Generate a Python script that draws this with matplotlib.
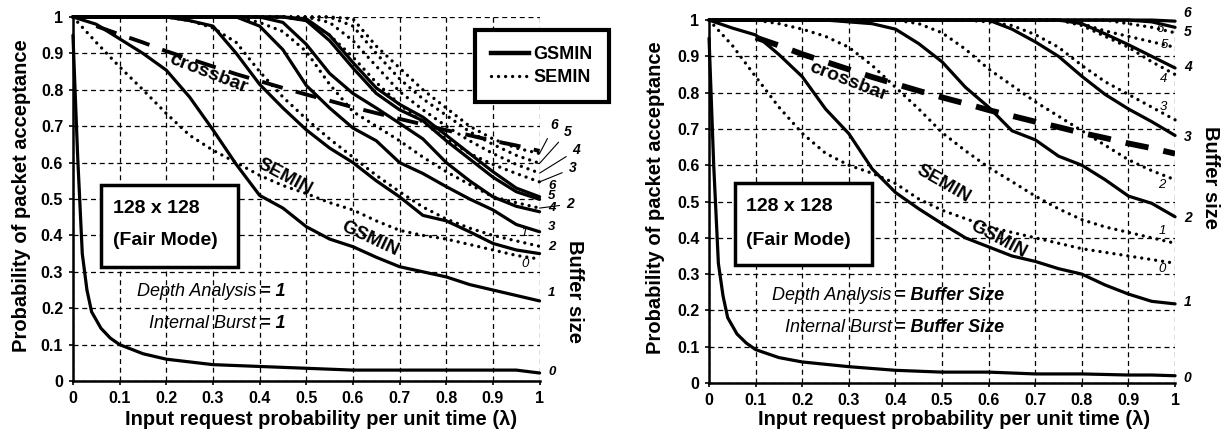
import numpy as np
import matplotlib
matplotlib.use("Agg")
import matplotlib.pyplot as plt
from matplotlib.patches import Rectangle
from matplotlib.lines import Line2D

plt.rcParams['font.family'] = ['Liberation Sans', 'DejaVu Sans']

# input request probability (lambda) sample points
lam = [0, 0.05, 0.1, 0.15, 0.2, 0.25, 0.3, 0.35, 0.4, 0.45, 0.5,
       0.55, 0.6, 0.65, 0.7, 0.75, 0.8, 0.85, 0.9, 0.95, 1.0]
lam_g0 = [0, 0.01, 0.02, 0.03, 0.04, 0.06, 0.08, 0.1, 0.15, 0.2, 0.3,
          0.4, 0.5, 0.6, 0.7, 0.8, 0.9, 0.95, 1.0]
lam_xbar = lam[1:]

crossbar = [0.975, 0.952, 0.93, 0.906, 0.885, 0.864, 0.843, 0.824, 0.805, 0.787,
            0.77, 0.752, 0.736, 0.72, 0.705, 0.689, 0.675, 0.66, 0.647, 0.632]

# ---- left: depth analysis = 1, internal burst = 1
l_g0 = [0.95, 0.62, 0.35, 0.25, 0.19, 0.145, 0.118, 0.10, 0.075, 0.06, 0.045,
        0.04, 0.035, 0.03, 0.03, 0.03, 0.03, 0.03, 0.022]
l_g1 = [1, 0.98, 0.94, 0.90, 0.854, 0.78, 0.69, 0.595, 0.51, 0.475, 0.424,
        0.39, 0.369, 0.34, 0.314, 0.30, 0.286, 0.265, 0.25, 0.235, 0.22]
l_g2 = [1, 1, 1, 1, 1, 0.99, 0.975, 0.9, 0.815, 0.75, 0.69,
        0.64, 0.60, 0.55, 0.506, 0.455, 0.44, 0.41, 0.378, 0.36, 0.35]
l_g3 = [1, 1, 1, 1, 1, 1, 1, 1, 0.975, 0.91, 0.812,
        0.75, 0.695, 0.66, 0.60, 0.57, 0.534, 0.50, 0.47, 0.43, 0.41]
l_g4 = [1, 1, 1, 1, 1, 1, 1, 1, 1, 0.985, 0.925,
        0.845, 0.79, 0.75, 0.708, 0.665, 0.60, 0.55, 0.506, 0.48, 0.465]
l_g5 = [1, 1, 1, 1, 1, 1, 1, 1, 1, 1, 0.99,
        0.935, 0.86, 0.79, 0.745, 0.715, 0.66, 0.61, 0.56, 0.52, 0.499]
l_g6 = [1, 1, 1, 1, 1, 1, 1, 1, 1, 1, 0.995,
        0.95, 0.875, 0.805, 0.76, 0.725, 0.675, 0.625, 0.575, 0.53, 0.506]
l_s0 = [1, 0.93, 0.863, 0.80, 0.735, 0.675, 0.634, 0.60, 0.565, 0.537, 0.515,
        0.49, 0.47, 0.44, 0.414, 0.40, 0.39, 0.375, 0.36, 0.345, 0.335]
l_s1 = [1, 1, 1, 1, 1, 0.99, 0.97, 0.93, 0.85, 0.78, 0.72,
        0.665, 0.615, 0.565, 0.52, 0.478, 0.445, 0.42, 0.40, 0.385, 0.37]
l_s2 = [1, 1, 1, 1, 1, 1, 1, 1, 0.985, 0.96, 0.905,
        0.815, 0.74, 0.70, 0.66, 0.615, 0.575, 0.54, 0.506, 0.49, 0.475]
l_s3 = [1, 1, 1, 1, 1, 1, 1, 1, 1, 1, 0.99,
        0.95, 0.89, 0.82, 0.76, 0.71, 0.665, 0.625, 0.595, 0.57, 0.547]
l_s4 = [1, 1, 1, 1, 1, 1, 1, 1, 1, 1, 1,
        0.985, 0.935, 0.865, 0.795, 0.745, 0.70, 0.66, 0.625, 0.595, 0.571]
l_s5 = [1, 1, 1, 1, 1, 1, 1, 1, 1, 1, 1,
        1, 0.975, 0.90, 0.83, 0.775, 0.73, 0.685, 0.65, 0.62, 0.598]
l_s6 = [1, 1, 1, 1, 1, 1, 1, 1, 1, 1, 1,
        1, 0.995, 0.92, 0.86, 0.80, 0.75, 0.70, 0.665, 0.64, 0.625]

# ---- right: depth analysis = internal burst = buffer size
r_g0 = [0.95, 0.6, 0.33, 0.24, 0.18, 0.135, 0.11, 0.092, 0.07, 0.058, 0.045,
        0.035, 0.03, 0.03, 0.025, 0.025, 0.022, 0.022, 0.02]
r_g1 = [1, 0.978, 0.959, 0.905, 0.844, 0.755, 0.687, 0.59, 0.525, 0.48, 0.439,
        0.40, 0.375, 0.35, 0.335, 0.315, 0.30, 0.27, 0.245, 0.225, 0.218]
r_g2 = [1, 1, 1, 1, 1, 1, 0.995, 0.99, 0.975, 0.935, 0.885,
        0.815, 0.76, 0.695, 0.67, 0.625, 0.60, 0.56, 0.515, 0.495, 0.458]
r_g3 = [1, 1, 1, 1, 1, 1, 1, 1, 1, 1, 1,
        1, 1, 0.975, 0.94, 0.90, 0.845, 0.795, 0.755, 0.72, 0.682]
r_g4 = [1, 1, 1, 1, 1, 1, 1, 1, 1, 1, 1,
        1, 1, 1, 1, 1, 0.99, 0.962, 0.932, 0.90, 0.868]
r_g5 = [1, 1, 1, 1, 1, 1, 1, 1, 1, 1, 1,
        1, 1, 1, 1, 1, 1, 1, 1, 0.995, 0.98]
r_g6 = [1, 1, 1, 1, 1, 1, 1, 1, 1, 1, 1,
        1, 1, 1, 1, 1, 1, 1, 1, 1, 0.997]
r_s0 = [1, 0.93, 0.844, 0.76, 0.688, 0.633, 0.60, 0.578, 0.55, 0.507, 0.476,
        0.453, 0.43, 0.415, 0.40, 0.385, 0.37, 0.36, 0.35, 0.34, 0.33]
r_s1 = [1, 1, 1, 0.99, 0.975, 0.955, 0.925, 0.875, 0.815, 0.755, 0.69,
        0.64, 0.594, 0.555, 0.515, 0.48, 0.45, 0.43, 0.415, 0.40, 0.385]
r_s2 = [1, 1, 1, 1, 1, 1, 1, 1, 1, 0.99, 0.965,
        0.92, 0.865, 0.82, 0.775, 0.735, 0.695, 0.655, 0.615, 0.585, 0.56]
r_s3 = [1, 1, 1, 1, 1, 1, 1, 1, 1, 1, 1,
        1, 0.995, 0.985, 0.96, 0.925, 0.875, 0.83, 0.795, 0.76, 0.725]
r_s4 = [1, 1, 1, 1, 1, 1, 1, 1, 1, 1, 1,
        1, 1, 1, 1, 1, 0.985, 0.955, 0.925, 0.885, 0.85]
r_s5 = [1, 1, 1, 1, 1, 1, 1, 1, 1, 1, 1,
        1, 1, 1, 1, 1, 0.99, 0.97, 0.955, 0.94, 0.925]
r_s6 = [1, 1, 1, 1, 1, 1, 1, 1, 1, 1, 1,
        1, 1, 1, 1, 1, 1, 1, 0.99, 0.98, 0.965]

ticks = [0, 0.1, 0.2, 0.3, 0.4, 0.5, 0.6, 0.7, 0.8, 0.9, 1]
tick_labels = ['0', '0.1', '0.2', '0.3', '0.4', '0.5', '0.6', '0.7', '0.8', '0.9', '1']

SOLID = dict(color='black', lw=2.3, solid_capstyle='round', clip_on=False, zorder=3)
DOT = dict(color='black', lw=2.4, ls=(0, (0.01, 2.1)), dash_capstyle='round',
           clip_on=False, zorder=3)


def base_axes(ax):
    ax.set_xlim(0, 1)
    ax.set_ylim(0, 1)
    ax.set_xticks(ticks, tick_labels, fontweight='bold', fontsize=11.5)
    ax.set_yticks(ticks, tick_labels, fontweight='bold', fontsize=11.5)
    ax.tick_params(length=3, width=1.2, pad=4)
    ax.grid(True, color='black', ls=(0, (4, 3)), lw=0.9)
    ax.set_axisbelow(True)
    for s in ['top', 'right']:
        ax.spines[s].set_visible(False)
    for s in ['left', 'bottom']:
        ax.spines[s].set_linewidth(1.8)
    ax.set_xlabel('Input request probability per unit time (λ)',
                  fontweight='bold', fontsize=14.5)
    ax.set_ylabel('Probability of packet acceptance', fontweight='bold', fontsize=14.5)


def info_box(ax, x0, y0, w, h, ty1, ty2):
    ax.add_patch(Rectangle((x0, y0), w, h, facecolor='white', edgecolor='black',
                           lw=2.5, zorder=6))
    ax.text(x0 + 0.025, ty1, '128 x 128', fontweight='bold', fontsize=14,
            va='center', zorder=7)
    ax.text(x0 + 0.025, ty2, '(Fair Mode)', fontweight='bold', fontsize=14,
            va='center', zorder=7)


fig = plt.figure(figsize=(12.28, 4.41), dpi=100)
axl = fig.add_axes([0.0594, 0.136, 0.380, 0.8255])
axr = fig.add_axes([0.5774, 0.1315, 0.3795, 0.823])

# ================= left panel =================
base_axes(axl)
axl.xaxis.set_label_coords(0.532, -0.08)
axl.yaxis.set_label_coords(-0.09, 0.51)
axl.plot(lam_g0, l_g0, **SOLID)
for ys in [l_g1, l_g2, l_g3, l_g4, l_g5, l_g6]:
    axl.plot(lam, ys, **SOLID)
for ys in [l_s0, l_s1, l_s2, l_s3, l_s4, l_s5, l_s6]:
    axl.plot(lam, ys, **DOT)
axl.plot(lam_xbar, crossbar, color='black', lw=2.8, ls=(0, (5.5, 3.5)), zorder=3)

axl.text(0.29, 0.845, 'crossbar', rotation=-21, fontweight='bold', fontsize=14,
         ha='center', va='center', zorder=5)
axl.text(0.455, 0.56, 'SEMIN', rotation=-28, fontweight='bold', fontsize=13.5,
         ha='center', va='center', zorder=5)
axl.text(0.636, 0.39, 'GSMIN', rotation=-25, fontweight='bold', fontsize=13.5,
         ha='center', va='center', zorder=5)

info_box(axl, 0.061, 0.314, 0.293, 0.224, 0.474, 0.387)
axl.text(0.393, 0.245, 'Depth Analysis', style='italic', fontsize=13, ha='right', va='center')
axl.text(0.40, 0.245, '= 1', style='italic', fontweight='bold', fontsize=13, ha='left', va='center')
axl.text(0.393, 0.158, 'Internal Burst', style='italic', fontsize=13, ha='right', va='center')
axl.text(0.40, 0.158, '= 1', style='italic', fontweight='bold', fontsize=13, ha='left', va='center')

h_solid = Line2D([], [], color='black', lw=3.2)
h_dot = Line2D([], [], color='black', lw=2.4, ls=(0, (0.01, 2.1)), dash_capstyle='round')
leg = axl.legend([h_solid, h_dot], ['GSMIN', 'SEMIN'], loc='upper left',
                 bbox_to_anchor=(0.861, 0.964), frameon=True, fancybox=False,
                 edgecolor='black', framealpha=1, prop={'weight': 'bold', 'size': 13},
                 handlelength=2.1, handletextpad=0.25, borderpad=0.9,
                 labelspacing=0.32, borderaxespad=0)
leg.get_frame().set_linewidth(3)
leg.set_zorder(10)

LBL = dict(style='italic', fontweight='bold', fontsize=10, va='center', ha='center',
           annotation_clip=False)
for txt, ys, pos in [('6', l_s6, (1.032, 0.703)), ('5', l_s5, (1.061, 0.685)),
                     ('4', l_s4, (1.079, 0.634)), ('3', l_s3, (1.071, 0.584)),
                     ('2', l_s2, (1.066, 0.486))]:
    axl.annotate(txt, xy=(lam[-1], ys[-1]), xytext=pos,
                 arrowprops=dict(arrowstyle='-', lw=0.8, color='black',
                                 shrinkA=3, shrinkB=0), **LBL)
for txt, ypos in [('6', 0.537), ('5', 0.508), ('4', 0.475), ('3', 0.424),
                  ('2', 0.369), ('1', 0.241), ('0', 0.026)]:
    axl.text(1.026, ypos, txt, style='italic', fontweight='bold', fontsize=9.5,
             ha='center', va='center', transform=axl.transAxes)
axl.text(0.968, 0.406, '1', style='italic', fontsize=9.5, ha='center', va='center')
axl.text(0.97, 0.322, '0', style='italic', fontsize=9.5, ha='center', va='center')
axl.text(1.075, 0.246, 'Buffer size', rotation=-90, fontweight='bold', fontsize=14.5,
         ha='center', va='center', transform=axl.transAxes)

# ================= right panel =================
base_axes(axr)
axr.xaxis.set_label_coords(0.526, -0.075)
axr.yaxis.set_label_coords(-0.095, 0.51)
axr.plot(lam_g0, r_g0, **SOLID)
for ys in [r_g1, r_g2, r_g3, r_g4, r_g5, r_g6]:
    axr.plot(lam, ys, **SOLID)
for ys in [r_s0, r_s1, r_s2, r_s3, r_s4, r_s5, r_s6]:
    axr.plot(lam, ys, **DOT)
axr.plot(lam_xbar[1:], crossbar[1:], color='black', lw=4.2, ls=(0, (4, 2.6)), zorder=3)

axr.text(0.30, 0.83, 'crossbar', rotation=-21, fontweight='bold', fontsize=14,
         ha='center', va='center', zorder=5)
axr.text(0.503, 0.548, 'SEMIN', rotation=-30, fontweight='bold', fontsize=13.5,
         ha='center', va='center', zorder=5)
axr.text(0.62, 0.395, 'GSMIN', rotation=-28, fontweight='bold', fontsize=13.5,
         ha='center', va='center', zorder=5)

info_box(axr, 0.055, 0.324, 0.294, 0.226, 0.485, 0.393)
axr.text(0.392, 0.242, 'Depth Analysis', style='italic', fontsize=13, ha='right', va='center')
axr.text(0.40, 0.242, '= Buffer Size', style='italic', fontweight='bold', fontsize=13,
         ha='left', va='center')
axr.text(0.392, 0.152, 'Internal Burst', style='italic', fontsize=13, ha='right', va='center')
axr.text(0.40, 0.152, '= Buffer Size', style='italic', fontweight='bold', fontsize=13,
         ha='left', va='center')

for txt, ypos in [('6', 1.02), ('5', 0.968), ('4', 0.871), ('3', 0.679),
                  ('2', 0.454), ('1', 0.222), ('0', 0.015)]:
    axr.text(1.027, ypos, txt, style='italic', fontweight='bold', fontsize=10,
             ha='center', va='center', transform=axr.transAxes)
for txt, xpos, ypos in [('6', 0.968, 0.975), ('5', 0.977, 0.931), ('4', 0.975, 0.838),
                        ('3', 0.975, 0.76), ('2', 0.972, 0.545), ('1', 0.972, 0.418),
                        ('0', 0.972, 0.315)]:
    axr.text(xpos, ypos, txt, style='italic', fontsize=9.5, ha='center', va='center')
axr.text(1.077, 0.565, 'Buffer size', rotation=-90, fontweight='bold', fontsize=14.5,
         ha='center', va='center', transform=axr.transAxes)

fig.savefig('out.png', dpi=100)
